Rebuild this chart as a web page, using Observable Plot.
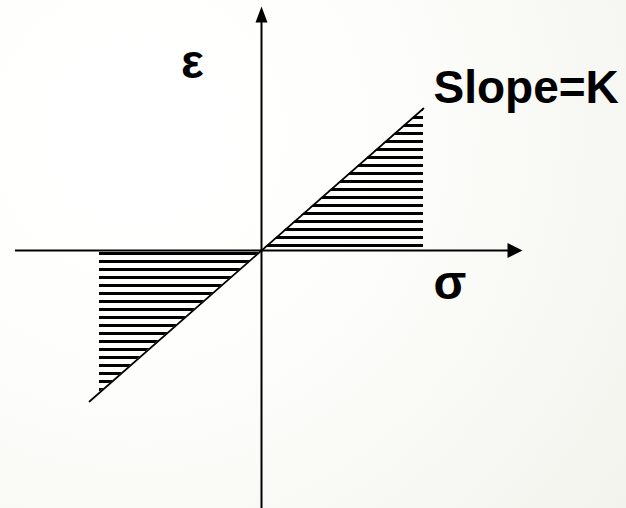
<!DOCTYPE html>
<html>
<head>
<meta charset="utf-8">
<script src="https://cdn.jsdelivr.net/npm/d3@7"></script>
<script src="https://cdn.jsdelivr.net/npm/@observablehq/plot@0.6"></script>
<style>
  html, body { margin: 0; padding: 0; background: #fafaf7; }
  #chart svg { display: block; }
</style>
</head>
<body>
<div id="chart"></div>
<script>
// Axis extents (σ horizontal, ε vertical)
const sigmaAxis = [-24.6, 26.1];
const epsAxis = [-25.8, 24.4];
// Linear relation ε = K·σ
const lineSigma = [-17.2, 16.2];
const lineEps = [-15.1, 14.2];
// Hatched regions
const hatchRightSigma = [0, 16.2];
const hatchRightEps = [0, 14.2];
const hatchLeftSigma = [-16.2, 0];
const hatchLeftEps = [-14.2, 0];
// Labels
const labels = ["ε", "Slope=K", "σ"];
const labelSigma = [-6.9, 17.2, 17.2];
const labelEps = [17.3, 14.8, -4.8];
const labelAnchor = ["middle", "start", "start"];
const labelSize = [48, 46, 48];

const idx2 = [0, 1];

function arrowSymbol(halfWidth, length) {
  return {
    draw(context) {
      context.moveTo(0, 0);
      context.lineTo(-halfWidth, length);
      context.lineTo(halfWidth, length);
      context.closePath();
    }
  };
}
const upHead = arrowSymbol(6, 16);
const rightHead = arrowSymbol(7.5, 15);

const svg = Plot.plot({
  width: 626,
  height: 508,
  margin: 0,
  x: { domain: [-26.1, 36.5], axis: null },
  y: { domain: [-25.8, 25.0], axis: null },
  style: {
    background: "radial-gradient(circle at 22% 26%, #ffffff 0%, #fefefd 35%, #f8f8f4 70%, #f3f3ee 100%)",
    overflow: "visible"
  },
  marks: [
    Plot.areaY(idx2, {
      x: i => hatchRightSigma[i],
      y1: () => 0,
      y2: i => hatchRightEps[i],
      fill: "url(#hatch)"
    }),
    Plot.areaY(idx2, {
      x: i => hatchLeftSigma[i],
      y1: i => hatchLeftEps[i],
      y2: () => 0,
      fill: "url(#hatch)"
    }),
    Plot.line(idx2, {
      x: i => lineSigma[i],
      y: i => lineEps[i],
      stroke: "black",
      strokeWidth: 1.7
    }),
    Plot.ruleY([0], { y: d => d, x1: () => sigmaAxis[0], x2: () => sigmaAxis[1] - 1.2, stroke: "black", strokeWidth: 2 }),
    Plot.ruleX([0], { x: d => d, y1: () => epsAxis[0], y2: () => epsAxis[1] - 1.2, stroke: "black", strokeWidth: 2 }),
    Plot.dot([0], { x: () => sigmaAxis[1], y: () => 0, symbol: rightHead, rotate: 90, fill: "black", r: 8 }),
    Plot.dot([0], { x: () => 0, y: () => epsAxis[1], symbol: upHead, fill: "black", r: 8 }),
    ...labels.map((t, i) => Plot.text([t], {
      x: () => labelSigma[i],
      y: () => labelEps[i],
      text: d => d,
      textAnchor: labelAnchor[i],
      lineAnchor: "bottom",
      fontSize: labelSize[i],
      fontWeight: "bold",
      fontFamily: "Liberation Sans, Arial, sans-serif",
      fill: "black"
    }))
  ]
});

// hatch pattern definition
const ns = "http://www.w3.org/2000/svg";
const defs = document.createElementNS(ns, "defs");
const pattern = document.createElementNS(ns, "pattern");
pattern.setAttribute("id", "hatch");
pattern.setAttribute("patternUnits", "userSpaceOnUse");
pattern.setAttribute("x", "0");
pattern.setAttribute("y", "0");
pattern.setAttribute("width", "8");
pattern.setAttribute("height", "8");
const rect = document.createElementNS(ns, "rect");
rect.setAttribute("x", "0");
rect.setAttribute("y", "4");
rect.setAttribute("width", "8");
rect.setAttribute("height", "2.5");
rect.setAttribute("fill", "black");
rect.setAttribute("shape-rendering", "crispEdges");
pattern.appendChild(rect);
defs.appendChild(pattern);
svg.insertBefore(defs, svg.firstChild);

document.getElementById("chart").appendChild(svg);
</script>
</body>
</html>
